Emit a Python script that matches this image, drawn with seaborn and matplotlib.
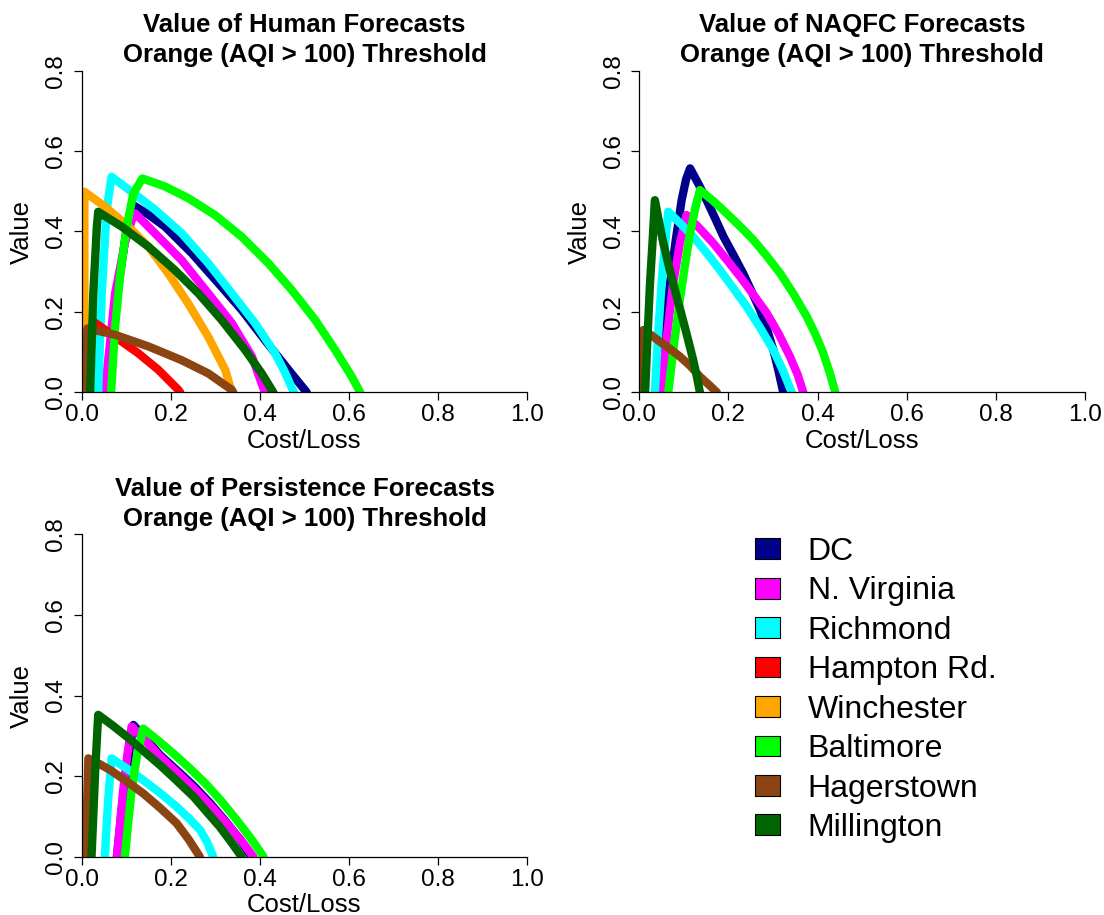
import numpy as np
import pandas as pd
import matplotlib
matplotlib.use("Agg")
import matplotlib.pyplot as plt
import seaborn as sns
from matplotlib.patches import Patch

sns.set_theme(style="white")
plt.rcParams['font.family'] = ['Liberation Sans', 'DejaVu Sans']
plt.rcParams['text.color'] = 'black'
plt.rcParams['axes.labelcolor'] = 'black'
plt.rcParams['xtick.color'] = 'black'
plt.rcParams['ytick.color'] = 'black'

sites = ["DC", "N. Virginia", "Richmond", "Hampton Rd.", "Winchester",
         "Baltimore", "Hagerstown", "Millington"]
colors = ["#00008B", "#FF00FF", "#00FFFF", "#FF0000", "#FFA500",
          "#00FF00", "#8B4513", "#006400"]

titles = ["Value of Human Forecasts\nOrange (AQI > 100) Threshold",
          "Value of NAQFC Forecasts\nOrange (AQI > 100) Threshold",
          "Value of Persistence Forecasts\nOrange (AQI > 100) Threshold"]
xticks = [0.0, 0.2, 0.4, 0.6, 0.8, 1.0]
yticks = [0.0, 0.2, 0.4, 0.6, 0.8]
xlabel = "Cost/Loss"
ylabel = "Value"

# ---- Human forecasts: (cost/loss, value) points per site
human = {
    "DC": ([0.060, 0.080, 0.100, 0.115, 0.150, 0.187, 0.247, 0.307, 0.359, 0.411, 0.464, 0.505],
           [0.0, 0.246, 0.400, 0.466, 0.442, 0.412, 0.346, 0.271, 0.205, 0.130, 0.056, 0.0]),
    "N. Virginia": ([0.052, 0.075, 0.097, 0.116, 0.120, 0.172, 0.224, 0.284, 0.337, 0.382, 0.411],
                    [0.0, 0.246, 0.371, 0.441, 0.445, 0.387, 0.329, 0.246, 0.172, 0.089, 0.0]),
    "Richmond": ([0.037, 0.045, 0.056, 0.067, 0.112, 0.165, 0.224, 0.284, 0.337, 0.389, 0.434, 0.456, 0.476],
                 [0.0, 0.246, 0.454, 0.536, 0.499, 0.454, 0.396, 0.321, 0.246, 0.172, 0.097, 0.050, 0.0]),
    "Hampton Rd.": ([0.011, 0.026, 0.075, 0.127, 0.172, 0.217, 0.221],
                    [0.0, 0.176, 0.138, 0.097, 0.056, 0.006, 0.0]),
    "Winchester": ([0.006, 0.006, 0.052, 0.105, 0.150, 0.194, 0.239, 0.284, 0.322, 0.337],
                   [0.0, 0.499, 0.462, 0.412, 0.362, 0.296, 0.221, 0.138, 0.056, 0.0]),
    "Baltimore": ([0.066, 0.075, 0.086, 0.101, 0.116, 0.136, 0.187, 0.239, 0.299, 0.359, 0.419,
                   0.471, 0.524, 0.569, 0.606, 0.625],
                  [0.0, 0.163, 0.288, 0.412, 0.495, 0.532, 0.512, 0.483, 0.441, 0.387, 0.321,
                   0.255, 0.180, 0.105, 0.039, 0.0]),
    "Hagerstown": ([0.009, 0.013, 0.075, 0.150, 0.224, 0.284, 0.337, 0.340],
                   [0.0, 0.159, 0.143, 0.114, 0.080, 0.047, 0.006, 0.0]),
    "Millington": ([0.019, 0.026, 0.034, 0.037, 0.090, 0.150, 0.209, 0.262, 0.314, 0.367, 0.404, 0.430],
                   [0.0, 0.246, 0.412, 0.449, 0.412, 0.362, 0.304, 0.246, 0.180, 0.105, 0.047, 0.0]),
}

# ---- NAQFC forecasts
naqfc = {
    "DC": ([0.039, 0.055, 0.069, 0.082, 0.095, 0.105, 0.114, 0.132, 0.151, 0.170, 0.189, 0.211,
            0.233, 0.252, 0.271, 0.287, 0.301, 0.313, 0.323],
           [0.0, 0.150, 0.271, 0.380, 0.478, 0.530, 0.557, 0.520, 0.478, 0.433, 0.387, 0.342,
            0.296, 0.251, 0.205, 0.155, 0.105, 0.050, 0.0]),
    "N. Virginia": ([0.050, 0.062, 0.076, 0.091, 0.106, 0.136, 0.166, 0.196, 0.226, 0.256, 0.286,
                     0.313, 0.338, 0.355, 0.368],
                    [0.0, 0.140, 0.271, 0.370, 0.441, 0.407, 0.371, 0.330, 0.288, 0.243, 0.197,
                     0.145, 0.089, 0.045, 0.0]),
    "Richmond": ([0.035, 0.042, 0.050, 0.058, 0.065, 0.093, 0.121, 0.151, 0.181, 0.211, 0.241,
                  0.271, 0.301, 0.322, 0.342],
                 [0.0, 0.140, 0.271, 0.370, 0.449, 0.419, 0.387, 0.347, 0.304, 0.259, 0.213,
                  0.161, 0.105, 0.055, 0.0]),
    "Baltimore": ([0.065, 0.078, 0.091, 0.103, 0.114, 0.125, 0.136, 0.166, 0.196, 0.226, 0.256,
                   0.286, 0.316, 0.346, 0.376, 0.395, 0.412, 0.427, 0.440],
                  [0.0, 0.120, 0.230, 0.320, 0.396, 0.455, 0.503, 0.476, 0.445, 0.413, 0.379,
                   0.339, 0.296, 0.245, 0.188, 0.145, 0.100, 0.050, 0.0]),
    "Hagerstown": ([0.008, 0.009, 0.028, 0.046, 0.069, 0.091, 0.114, 0.136, 0.155, 0.174],
                   [0.0, 0.155, 0.141, 0.126, 0.108, 0.089, 0.066, 0.039, 0.020, 0.0]),
    "Millington": ([0.013, 0.019, 0.024, 0.030, 0.035, 0.044, 0.054, 0.065, 0.076, 0.089, 0.102,
                    0.112, 0.121, 0.129, 0.136],
                   [0.0, 0.150, 0.271, 0.380, 0.478, 0.425, 0.371, 0.320, 0.271, 0.217, 0.163,
                    0.120, 0.080, 0.040, 0.0]),
}

# ---- Persistence forecasts
persist = {
    "DC": ([0.079, 0.090, 0.100, 0.108, 0.116, 0.146, 0.176, 0.213, 0.251, 0.288, 0.325, 0.355, 0.381],
           [0.0, 0.120, 0.200, 0.270, 0.327, 0.290, 0.252, 0.215, 0.176, 0.133, 0.085, 0.043, 0.0]),
    "N. Virginia": ([0.079, 0.086, 0.093, 0.102, 0.112, 0.144, 0.176, 0.213, 0.251, 0.288, 0.325,
                     0.357, 0.385],
                    [0.0, 0.080, 0.165, 0.250, 0.323, 0.287, 0.248, 0.210, 0.170, 0.128, 0.083,
                     0.042, 0.0]),
    "Richmond": ([0.052, 0.056, 0.060, 0.067, 0.102, 0.138, 0.176, 0.213, 0.240, 0.266, 0.282, 0.295],
                 [0.0, 0.080, 0.150, 0.244, 0.218, 0.190, 0.158, 0.124, 0.096, 0.066, 0.035, 0.0]),
    "Baltimore": ([0.097, 0.104, 0.112, 0.124, 0.138, 0.172, 0.206, 0.244, 0.281, 0.315, 0.348,
                   0.380, 0.408],
                  [0.0, 0.080, 0.165, 0.250, 0.318, 0.288, 0.256, 0.218, 0.178, 0.136, 0.091,
                   0.045, 0.0]),
    "Hagerstown": ([0.010, 0.012, 0.015, 0.040, 0.064, 0.101, 0.138, 0.176, 0.213, 0.240, 0.265],
                   [0.0, 0.120, 0.244, 0.230, 0.215, 0.187, 0.157, 0.121, 0.083, 0.043, 0.0]),
    "Millington": ([0.022, 0.026, 0.030, 0.037, 0.069, 0.101, 0.138, 0.176, 0.213, 0.251, 0.280,
                    0.310, 0.335, 0.359],
                   [0.0, 0.100, 0.207, 0.352, 0.326, 0.298, 0.263, 0.227, 0.189, 0.149, 0.112,
                    0.074, 0.037, 0.0]),
}


def to_frame(d):
    rows = []
    for s in sites:
        if s in d:
            xs, ys = d[s]
            for x, y in zip(xs, ys):
                rows.append((s, x, y))
    return pd.DataFrame(rows, columns=["site", "cl", "value"])


W, H = 1104, 915
fig = plt.figure(figsize=(W / 100, H / 100), dpi=100)

def px_axes(x0, x1, ytop, ybot):
    return fig.add_axes([x0 / W, 1 - ybot / H, (x1 - x0) / W, (ybot - ytop) / H])

axes = [px_axes(81.7, 527.3, 70.7, 392.3),
        px_axes(639.3, 1084.9, 70.7, 392.3),
        px_axes(81.7, 527.3, 534.3, 856.7)]

palette = dict(zip(sites, colors))
for ax, data, title in zip(axes, [human, naqfc, persist], titles):
    df = to_frame(data)
    present = [s for s in sites if s in data]
    sns.lineplot(data=df, x="cl", y="value", hue="site", hue_order=present,
                 palette=palette, sort=False, estimator=None, ax=ax,
                 linewidth=6, legend=False,
                 solid_joinstyle="round", solid_capstyle="round")
    ax.set_xlim(0, 1)
    ax.set_ylim(0, 0.8)
    ax.set_xticks(xticks)
    ax.set_yticks(yticks)
    ax.set_xticklabels([f"{t:.1f}" for t in xticks])
    ax.set_yticklabels([f"{t:.1f}" for t in yticks], rotation=90, va="center")
    ax.tick_params(axis="both", which="both", direction="out", length=5.5,
                   width=0.9, color="black", labelsize=17.5, pad=3,
                   bottom=True, left=True, labelcolor="black")
    ax.tick_params(axis="y", pad=5)
    for side in ["top", "right"]:
        ax.spines[side].set_visible(False)
    for side in ["left", "bottom"]:
        ax.spines[side].set_color("black")
        ax.spines[side].set_linewidth(0.9)
    ax.set_xlabel(xlabel, fontsize=18.5, color="black")
    ax.set_ylabel(ylabel, fontsize=18.5, color="black")
    ax.xaxis.set_label_coords(0.5, -0.113)
    ax.yaxis.set_label_coords(-0.107, 0.5)
    ax.set_title(title, fontsize=18.5, fontweight="bold", pad=6,
                 linespacing=1.32, color="black")
    ax.grid(False)
    ax.set_facecolor("white")

handles = [Patch(facecolor=c, edgecolor="black", linewidth=0.8) for c in colors]
fig.legend(handles, sites, loc="upper left", bbox_to_anchor=(755 / W, 1 - 537 / H),
           frameon=False, fontsize=23, handlelength=0.78, handleheight=0.62,
           handletextpad=0.87, labelspacing=0.295, borderaxespad=0, borderpad=0,
           labelcolor="black")

fig.savefig("out.png", dpi=100, facecolor="white")
